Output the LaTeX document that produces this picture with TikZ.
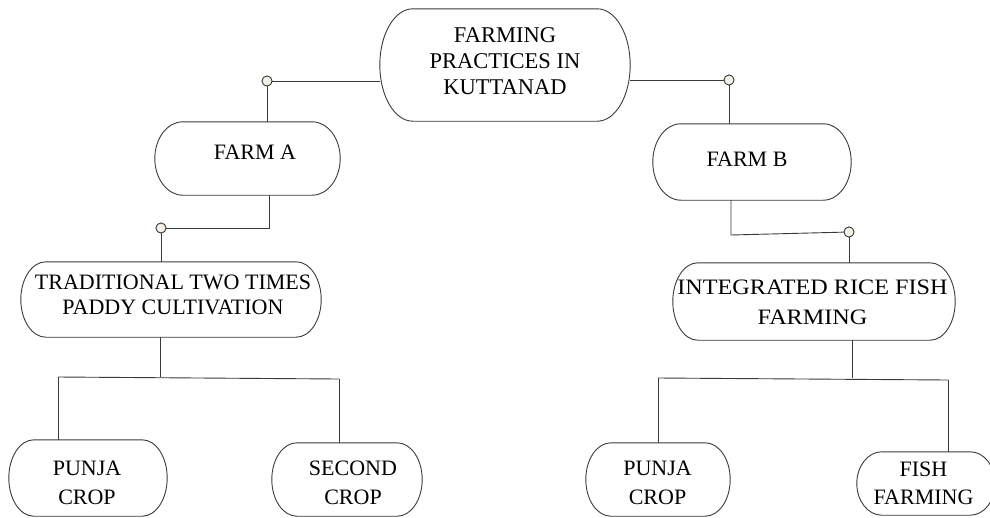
\documentclass[tikz,border=0pt]{standalone}
\usepackage{fontspec}
\setmainfont{Liberation Serif}
\newfontfamily\wideserif[FakeStretch=1.1]{Liberation Serif}
\usetikzlibrary{calc}
\definecolor{knobfill}{HTML}{F3F0E8}
\definecolor{linecol}{HTML}{3A3A3A}
% draw a pill (flat top/bottom, elliptical ends) around an empty node
\newcommand\pillpath[2]{%
  \draw[pillline] let \p1=(#1.north west), \p2=(#1.south east), \n1={(\y1-\y2)/2} in
    (\x1+#2pt,\y1) -- (\x2-#2pt,\y1)
    arc[start angle=90, end angle=-90, x radius=#2pt, y radius=\n1]
    -- (\x1+#2pt,\y2)
    arc[start angle=270, end angle=90, x radius=#2pt, y radius=\n1] -- cycle;}
\begin{document}
\begin{tikzpicture}[x=1pt,y=-1pt,
  box/.style={rectangle, draw=none, inner sep=0pt},
  label/.style={inner sep=0pt, align=center, text=black},
  pillline/.style={draw=linecol, line width=0.9pt},
  knob/.style={circle, draw=linecol, line width=0.8pt, fill=knobfill, minimum size=10pt, inner sep=0pt},
  link/.style={draw=linecol, line width=0.9pt}]
\useasboundingbox (0,0) rectangle (990,517);
% boxes
\node[box, minimum width=250pt, minimum height=112pt] (top) at (505,65) {};
\node[box, minimum width=185pt, minimum height=73pt] (farmA) at (247.5,158.5) {};
\node[box, minimum width=198pt, minimum height=76pt] (farmB) at (752,162) {};
\node[box, minimum width=300pt, minimum height=75pt] (trad) at (171,299.5) {};
\node[box, minimum width=282pt, minimum height=77pt] (integ) at (814,301.5) {};
\node[box, minimum width=158pt, minimum height=76pt] (punjaA) at (88,478) {};
\node[box, minimum width=150pt, minimum height=73pt] (second) at (347,479.5) {};
\node[box, minimum width=144pt, minimum height=73pt] (punjaB) at (658,479.5) {};
\node[box, minimum width=138pt, minimum height=63pt] (fish) at (926,483.5) {};
\pillpath{top}{33}
\pillpath{farmA}{28}
\pillpath{farmB}{28}
\pillpath{trad}{25}
\pillpath{integ}{25}
\pillpath{punjaA}{25}
\pillpath{second}{25}
\pillpath{punjaB}{25}
\pillpath{fish}{25}
% texts
\node[label, font=\fontsize{22.5}{26}\selectfont] (toptext) at (505,61) {FARMING\\PRACTICES IN\\KUTTANAD};
\node[label, font=\fontsize{22}{26}\selectfont] (farmAtext) at (255,152) {FARM A};
\node[label, font=\fontsize{22}{26}\selectfont] (farmBtext) at (747,159) {FARM B};
\node[label, font=\fontsize{22}{25}\selectfont] (tradtext) at (173,294.5) {TRADITIONAL TWO TIMES\\PADDY CULTIVATION};
\node[label, font=\wideserif\fontsize{22}{30}\selectfont] (integtext) at (812.5,302) {INTEGRATED RICE FISH\\FARMING};
\node[label, font=\fontsize{22}{29}\selectfont] (punjaAtext) at (87,482.5) {PUNJA\\CROP};
\node[label, font=\fontsize{22}{29}\selectfont] (secondtext) at (353,483) {SECOND\\CROP};
\node[label, font=\fontsize{22}{29}\selectfont] (punjaBtext) at (657.5,483) {PUNJA\\CROP};
\node[label, font=\fontsize{22}{28}\selectfont] (fishtext) at (923.5,483) {FISH\\FARMING};
% knobs
\node[knob] (c1) at (267,81) {};
\node[knob] (c2) at (729,80) {};
\node[knob] (c3) at (161,228) {};
\node[knob] (c4) at (849,232) {};
\coordinate (a1) at (269,228);
\coordinate (b1) at (731,235);
\coordinate (t1) at (160,377);
\coordinate (t2) at (58,377);
\coordinate (t3) at (339,379);
\coordinate (i1) at (852,378);
\coordinate (i2) at (658,378);
\coordinate (i3) at (948,380);
% connectors
\draw[link] (top.west |- c1) -- (c1);
\draw[link] (top.east |- c2) -- (c2);
\draw[link] (c1) -- (c1 |- farmA.north);
\draw[link] (c2) -- (c2 |- farmB.north);
\draw[link] (a1 |- farmA.south) -- (a1) -- (c3);
\draw[link] (c3) -- (c3 |- trad.north);
\draw[link] (b1 |- farmB.south) -- (b1) -- (c4);
\draw[link] (c4) -- (c4 |- integ.north);
\draw[link] (t1 |- trad.south) -- (t1);
\draw[link] (t2) -- (t3);
\draw[link] (t2) -- (t2 |- punjaA.north);
\draw[link] (t3) -- (t3 |- second.north);
\draw[link] (i1 |- integ.south) -- (i1);
\draw[link] (i2) -- (i3);
\draw[link] (i2) -- (i2 |- punjaB.north);
\draw[link] (i3) -- (i3 |- fish.north);
% redraw knobs on top
\node[knob] at (c1) {};
\node[knob] at (c2) {};
\node[knob] at (c3) {};
\node[knob] at (c4) {};
\end{tikzpicture}
\end{document}
